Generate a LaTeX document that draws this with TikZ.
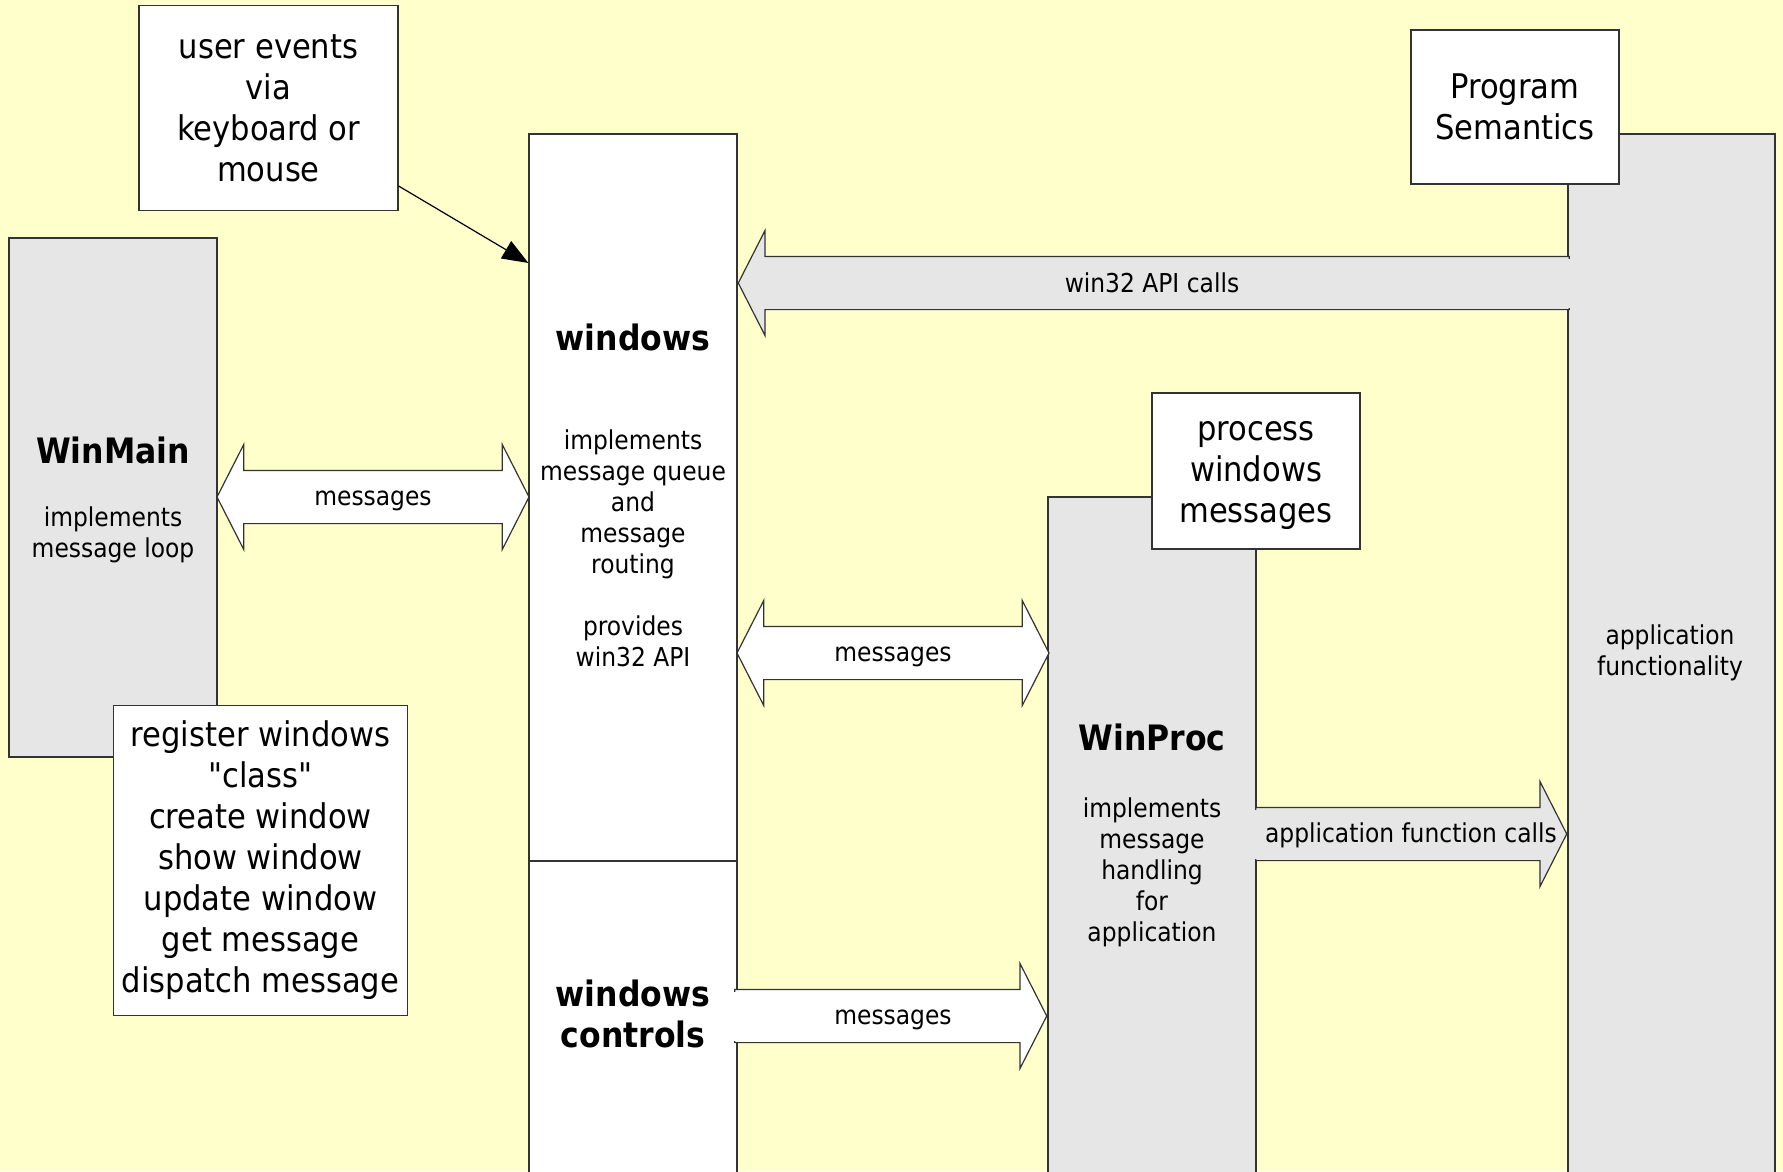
\documentclass[tikz,border=0pt]{standalone}
\usepackage{fontspec}
\setmainfont{DejaVu Sans Condensed}
\usetikzlibrary{arrows.meta,positioning,shapes.arrows}

\definecolor{paper}{HTML}{FFFFCC}
\definecolor{panel}{HTML}{E6E6E6}
\definecolor{edge}{HTML}{333333}

\begin{document}
\begin{tikzpicture}[x=1pt, y=-1pt]
 \tikzset{
box/.style = {rectangle, draw=edge, line width=1.2pt, fill=white, align=center, font=\fontsize{34}{41}\selectfont},
Layer/.style = {rectangle, draw=edge, line width=1.2pt, fill=panel, minimum width=208pt},
title/.style = {align=center, font=\fontsize{35}{41}\selectfont\bfseries},
desc/.style = {align=center, font=\fontsize{26}{31}\selectfont},
msgarrow/.style = {double arrow, draw=edge, line width=1.2pt, fill=white, minimum height=312pt, text height=26pt, text depth=26pt, inner ysep=0pt, double arrow head extend=26pt, double arrow tip angle=126},
callarrow/.style = {single arrow, draw=edge, line width=1.2pt, text height=26pt, text depth=26pt, inner ysep=0pt, single arrow head extend=26pt, single arrow tip angle=126}}

  \useasboundingbox (0,0) rectangle (1783,1171);
  \clip (0,0) rectangle (1783,1171);
  \fill [paper] (0,0) rectangle (1783,1171);

  % left side
  \node [Layer, minimum height=519pt] (WinMain) at (113,497.5) {};
  \node [title] (WinMaintitle) at (113,450) {WinMain};
  \node [desc] (WinMaindesc) at (113,535) {implements\\message loop};
  \node [box, minimum width=294pt, minimum height=310pt] (setup) at (260.5,860.5) {register windows\\\textquotedbl class\textquotedbl\\create window\\show window\\update window\\get message\\dispatch message};
  \node [box, minimum width=259pt, minimum height=205pt] (events) at (268.5,108) {user events\\via\\keyboard or\\mouse};

  % windows
  \node [Layer, fill=white, minimum height=727pt] (windows) at (633,497.5) {};
  \node [Layer, fill=white, minimum height=340pt] (controls) at (633,1031) {};
  \node [title] (windowstitle) at (633,337.5) {windows};
  \node [desc] (windowsdesc) at (633,548) {implements\\message queue\\and\\message\\routing\\[31pt]provides\\win32 API};
  \node [title] (controlstitle) at (633,1014) {windows\\controls};

  % WinProc
  \node [Layer, minimum height=703pt] (WinProc) at (1152,848.5) {};
  \node [box, minimum width=208pt, minimum height=156pt] (process) at (1256,471) {};
  \node [box, draw=none, fill=none] (processtext) at (1256,476) {process\\windows\\messages};
  \node [title] (WinProctitle) at (1152,737) {WinProc};
  \node [desc] (WinProcdesc) at (1152,872) {implements\\message\\handling\\for\\application};

  % application
  \node [Layer, minimum width=207pt, minimum height=1066pt] (app) at (1671.5,667) {};
  \node [box, minimum width=208pt, minimum height=154pt] (semantics) at (1515,107) {Program\\Semantics};
  \node [desc] (appdesc) at (1670,653) {application\\functionality};

  % block arrows
  \node [msgarrow] (loopmsg) at (373,497) {};
  \node [desc] (loopmsglabel) at (373,500.5) {messages};
  \node [msgarrow] (winmsg) at (893,653) {};
  \node [desc] (winmsglabel) at (893,656.5) {messages};
  \node [callarrow, fill=white, minimum height=312pt, anchor=tip] (ctrlmsg) at (WinProc.west |- 0,1016) {};
  \node [desc] (ctrlmsglabel) at (893,1019.5) {messages};
  \node [callarrow, fill=panel, minimum height=311pt, anchor=tip] (appcalls) at (app.west |- 0,834) {};
  \node [desc] (appcallslabel) at (1411,835) {application function calls};
  \node [callarrow, fill=panel, minimum height=831pt, shape border rotate=180, anchor=tip] (apicalls) at (windows.east |- 0,283) {};
  \node [desc] (apicallslabel) at (1152,283) {win32 API calls};

  \fill [panel] (1565,258.5) rectangle (1571,307.5);
  \fill [panel] (1253,809.5) rectangle (1259,858.5);
  \fill [white] (734,991.5) rectangle (740,1040.5);

  \draw [-{Triangle[length=26pt,width=20pt]}, line width=1.2pt] (events.east |- 0,186) -- (windows.west |- 0,263);

\end{tikzpicture}
\end{document}
